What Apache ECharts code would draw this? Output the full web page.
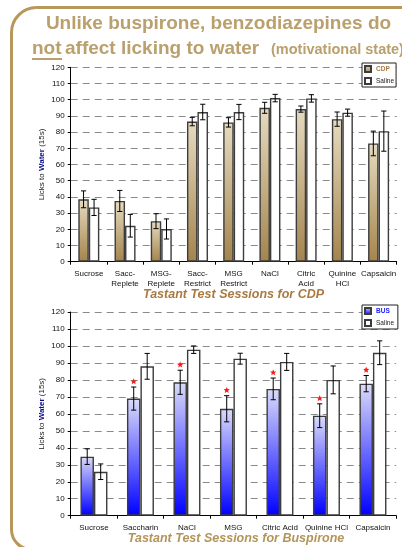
<!DOCTYPE html>
<html>
<head>
<meta charset="utf-8">
<script src="https://cdn.jsdelivr.net/npm/echarts@6/dist/echarts.min.js"></script>
<style>
  html, body { margin: 0; padding: 0; background: #fff; }
  #chart { width: 402px; height: 547px; }
</style>
</head>
<body>
<div id="chart"></div>
<script>
// Upper panel: tastant sessions, CDP vs saline
const cdpCategories = ['Sucrose', 'Sacc-\nReplete', 'MSG-\nReplete', 'Sacc-\nRestrict', 'MSG\nRestrict', 'NaCl', 'Citric\nAcid', 'Quinine\nHCl', 'Capsaicin'];
const cdpValues = [38.5, 37.5, 25, 86.5, 86, 95, 94.2, 88, 73];
const cdpErrors = [5.2, 6.5, 4.6, 2.6, 2.9, 3.4, 1.9, 4.4, 7.6];
const cdpSalineValues = [33.5, 22.2, 20.2, 92.4, 92.4, 101, 100.8, 92, 80.6];
const cdpSalineErrors = [5, 7, 6.2, 4.8, 4.7, 2.3, 2.3, 2.2, 12.4];

// Lower panel: tastant sessions, buspirone vs saline
const busCategories = ['Sucrose', 'Saccharin', 'NaCl', 'MSG', 'Citric Acid', 'Quinine HCl', 'Capsaicin'];
const busValues = [34.8, 69, 78.6, 63, 74.7, 58.9, 77.8];
const busErrors = [4.6, 6.8, 7.1, 7.7, 6.4, 7, 4.8];
const busSalineValues = [25.9, 88, 97.8, 92.5, 90.6, 80, 96];
const busSalineErrors = [4.6, 7.6, 2.2, 3.2, 5, 8.2, 7];
const busSignificant = [false, true, true, true, true, true, true];

// Shared y scale
const yMin = 0, yMax = 120, yStep = 10;

const FONT = '"Liberation Sans", Arial, sans-serif';
const GAP = 0.42;
const gold = '#b8985a';

function grad(top, bottom) {
  return new echarts.graphic.LinearGradient(0, 0, 0, 1, [
    { offset: 0, color: top },
    { offset: 1, color: bottom }
  ]);
}

function starPoints(cx, cy, ro, ri) {
  const pts = [];
  for (let k = 0; k < 10; k++) {
    const r = k % 2 === 0 ? ro : ri;
    const a = -Math.PI / 2 + k * Math.PI / 5;
    pts.push([cx + r * Math.cos(a), cy + r * Math.sin(a)]);
  }
  return pts;
}

// Error whiskers (and significance stars) drawn on top of each bar
function errorRenderer(side, sig) {
  return function (params, api) {
    const i = api.value(0), v = api.value(1), e = api.value(2);
    const band = api.size([1, 0])[0];
    const bw = band * (1 - GAP) / 2;
    const cx = api.coord([i, v])[0] + side * bw / 2;
    const yHi = api.coord([i, v + e])[1];
    const yLo = api.coord([i, v - e])[1];
    const cap = 2.6;
    const st = { stroke: '#000', lineWidth: 1 };
    const children = [
      { type: 'line', shape: { x1: cx, y1: yHi, x2: cx, y2: yLo }, style: st },
      { type: 'line', shape: { x1: cx - cap, y1: yHi, x2: cx + cap, y2: yHi }, style: st },
      { type: 'line', shape: { x1: cx - cap, y1: yLo, x2: cx + cap, y2: yLo }, style: st }
    ];
    if (sig && sig[i]) {
      const p = api.coord([i, v + e + 3.2]);
      children.push({
        type: 'polygon',
        shape: { points: starPoints(cx, p[1], 3.3, 1.5) },
        style: { fill: '#ff1a1a' }
      });
    }
    return { type: 'group', children };
  };
}

function yAxisCfg(gridIndex) {
  return {
    type: 'value', gridIndex, min: yMin, max: yMax, interval: yStep,
    name: '{a|Licks to }{b|Water}{a| (15s)}',
    nameLocation: 'middle', nameGap: 25, nameRotate: 90,
    nameMoveOverlap: false,
    nameTextStyle: {
      rich: {
        a: { fontSize: 8, color: '#222', fontFamily: FONT },
        b: { fontSize: 8, color: '#0a0a8a', fontWeight: 'bold', fontFamily: FONT }
      }
    },
    axisLine: { show: true, lineStyle: { color: '#000', width: 1 } },
    axisTick: { show: true, length: 3, lineStyle: { color: '#000' } },
    axisLabel: { fontSize: 8, color: '#111', fontFamily: FONT, margin: 6 },
    splitLine: { show: true, lineStyle: { color: '#8a8a8a', type: [7, 5], width: 1 } }
  };
}

function xAxisCfg(gridIndex, cats) {
  return {
    type: 'category', gridIndex, data: cats,
    axisLine: { show: true, lineStyle: { color: '#000', width: 1 } },
    axisTick: { show: true, length: 3, lineStyle: { color: '#000' } },
    axisLabel: { interval: 0, fontSize: 8, lineHeight: 10, color: '#111', fontFamily: FONT, margin: 7 },
    splitLine: { show: false }
  };
}

const barBorder = { borderColor: '#3c3c3c', borderWidth: 1.4 };

function legendCfg(top, items) {
  return {
    orient: 'vertical', left: 362, top,
    itemWidth: 6, itemHeight: 6, itemGap: 4, padding: [2, 2, 2, 2],
    borderColor: '#222', borderWidth: 1, backgroundColor: '#fff',
    icon: 'rect',
    textStyle: { fontSize: 6.5, fontFamily: FONT, color: '#222' },
    data: items
  };
}

const chart = echarts.init(document.getElementById('chart'), null, { renderer: 'canvas' });

chart.setOption({
  animation: false,
  backgroundColor: '#fff',
  grid: [
    { left: 70.7, top: 67.3, width: 326, height: 194.4, containLabel: false },
    { left: 70.7, top: 312, width: 325.5, height: 203.7, containLabel: false }
  ],
  xAxis: [xAxisCfg(0, cdpCategories), xAxisCfg(1, busCategories)],
  yAxis: [yAxisCfg(0), yAxisCfg(1)],
  legend: [
    legendCfg(63, [
      { name: 'CDP', textStyle: { color: '#a8793f', fontWeight: 'bold' } },
      { name: 'Saline' }
    ]),
    legendCfg(305, [
      { name: 'BUS', textStyle: { color: '#1a1aff', fontWeight: 'bold' } },
      { name: 'Saline ' }
    ])
  ],
  series: [
    {
      name: 'CDP', type: 'bar', xAxisIndex: 0, yAxisIndex: 0,
      barGap: '0%', barCategoryGap: (GAP * 100) + '%',
      data: cdpValues,
      itemStyle: Object.assign({ color: grad('#e6dbc0', '#a4844c') }, barBorder)
    },
    {
      name: 'Saline', type: 'bar', xAxisIndex: 0, yAxisIndex: 0,
      barGap: '0%', barCategoryGap: (GAP * 100) + '%',
      data: cdpSalineValues,
      itemStyle: Object.assign({ color: '#fff' }, barBorder)
    },
    {
      name: 'BUS', type: 'bar', xAxisIndex: 1, yAxisIndex: 1,
      barGap: '0%', barCategoryGap: (GAP * 100) + '%',
      data: busValues,
      itemStyle: Object.assign({ color: grad('#dcdcfb', '#0000ff') }, barBorder)
    },
    {
      name: 'Saline ', type: 'bar', xAxisIndex: 1, yAxisIndex: 1,
      barGap: '0%', barCategoryGap: (GAP * 100) + '%',
      data: busSalineValues,
      itemStyle: Object.assign({ color: '#fff' }, barBorder)
    },
    {
      type: 'custom', xAxisIndex: 0, yAxisIndex: 0, z: 5,
      encode: { x: 0, y: 1 },
      renderItem: errorRenderer(-1, null),
      data: cdpValues.map((v, i) => [i, v, cdpErrors[i]])
    },
    {
      type: 'custom', xAxisIndex: 0, yAxisIndex: 0, z: 5,
      encode: { x: 0, y: 1 },
      renderItem: errorRenderer(1, null),
      data: cdpSalineValues.map((v, i) => [i, v, cdpSalineErrors[i]])
    },
    {
      type: 'custom', xAxisIndex: 1, yAxisIndex: 1, z: 5,
      encode: { x: 0, y: 1 },
      renderItem: errorRenderer(-1, busSignificant),
      data: busValues.map((v, i) => [i, v, busErrors[i]])
    },
    {
      type: 'custom', xAxisIndex: 1, yAxisIndex: 1, z: 5,
      encode: { x: 0, y: 1 },
      renderItem: errorRenderer(1, null),
      data: busSalineValues.map((v, i) => [i, v, busSalineErrors[i]])
    }
  ],
  graphic: [
    {
      type: 'rect', z: 0, silent: true,
      shape: { x: 11.5, y: 7.5, width: 520, height: 542, r: [25, 0, 0, 20] },
      style: { fill: null, stroke: gold, lineWidth: 3 }
    },
    {
      type: 'text', z: 10, x: 218.5, y: 24,
      style: {
        text: 'Unlike buspirone, benzodiazepines do',
        fill: '#b9a06c', font: 'bold 19px ' + FONT,
        align: 'center', verticalAlign: 'middle'
      }
    },
    {
      type: 'text', z: 10, x: 32, y: 48.5,
      style: { text: 'not', fill: '#b9a06c', font: 'bold 19px ' + FONT, align: 'left', verticalAlign: 'middle' }
    },
    {
      type: 'line', z: 10,
      shape: { x1: 32, y1: 59, x2: 62, y2: 59 },
      style: { stroke: '#b9a06c', lineWidth: 2 }
    },
    {
      type: 'text', z: 10, x: 65, y: 48.5,
      style: { text: 'affect licking to water', fill: '#b9a06c', font: 'bold 19px ' + FONT, align: 'left', verticalAlign: 'middle' }
    },
    {
      type: 'text', z: 10, x: 271, y: 50,
      style: { text: '(motivational state)', fill: '#b9a06c', font: 'bold 14.5px ' + FONT, align: 'left', verticalAlign: 'middle' }
    },
    {
      type: 'text', z: 10, x: 233.5, y: 295,
      style: { text: 'Tastant Test Sessions for CDP', fill: '#a97b42', font: 'italic bold 12.5px ' + FONT, align: 'center', verticalAlign: 'middle' }
    },
    {
      type: 'text', z: 10, x: 236, y: 538.5,
      style: { text: 'Tastant Test Sessions for Buspirone', fill: '#b39559', font: 'italic bold 12.5px ' + FONT, align: 'center', verticalAlign: 'middle' }
    }
  ]
});
</script>
</body>
</html>
